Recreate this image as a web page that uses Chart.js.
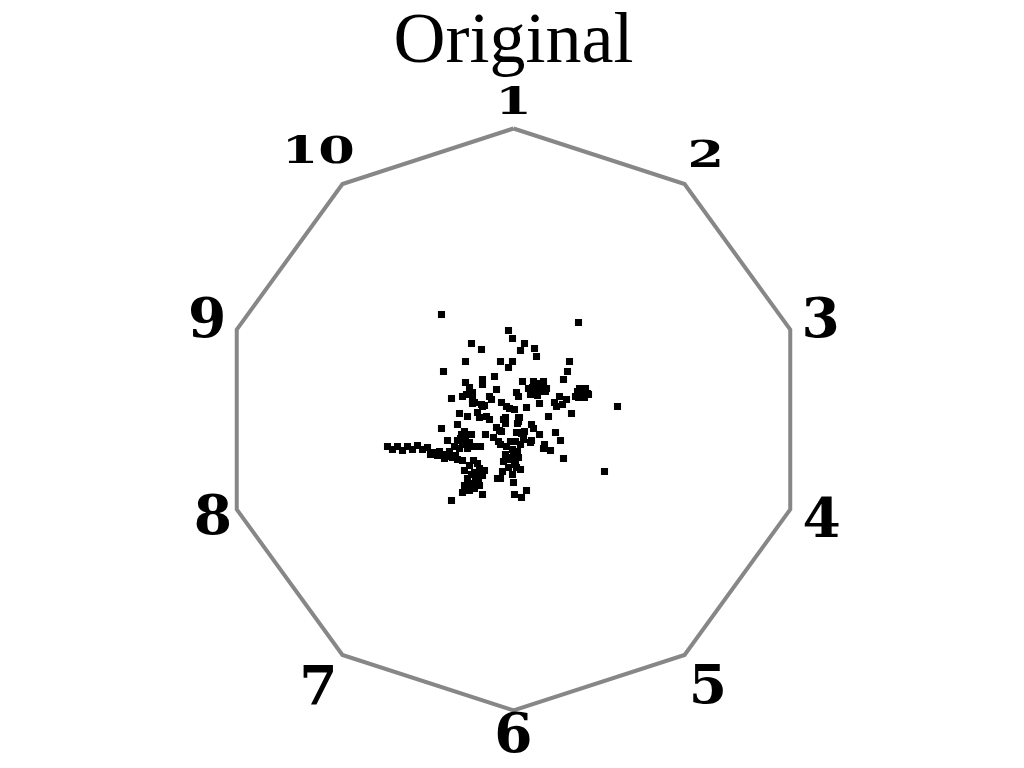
<!DOCTYPE html>
<html>
<head>
<meta charset="utf-8">
<script src="https://cdn.jsdelivr.net/npm/chart.js@4.4.1/dist/chart.umd.min.js"></script>
<style>
  html, body { margin: 0; padding: 0; background: #ffffff; }
  #wrap { width: 1024px; height: 768px; position: relative; }
</style>
</head>
<body>
<div id="wrap"><canvas id="c"></canvas></div>
<script>
// ---- data ----
const chartTitle = "Original";
const anchorLabels = ["1", "2", "3", "4", "5", "6", "7", "8", "9", "10"];
const anchorRadius = 291; // radius of the anchor circle, in plot units

// projected sample positions (plot units, origin at the centre of the anchor circle)
const pointX = [
  -72, -5, -1, -42, -32, 11, 7, 21, 23, 65,
  -48, -13, -1, -5, 56, 54, 50, -70, -48, -44,
  -41, -31, -31, -19, -17, 9, -62, -51, -47, -41,
  -41, -24, -22, -32, -29, -12, -7, -4, 3, 5,
  15, 25, 19, 30, 22, 27, 17, 32, 64, 70,
  68, 74, 62, 26, 41, 46, 53, 43, 49, 104,
  13, 58, 35, -8, 1, 4, 5, 18, 20, 26,
  11, 10, 3, -12, -3, 18, 17, 42, 47, 31,
  30, 37, 50, 91, -8, -3, 1, -5, 5, -1,
  7, -10, 0, 4, -11, -1, 0, -13, 13, 1,
  8, 7, 10, -13, -20, -17, -28, -33, -15, -7,
  -10, -8, 5, 6, 8, 2, 7, -54, -46, -36,
  -34, -27, -24, -39, -31, -56, -72, -66, -14, -126,
  -121, -116, -111, -106, -101, -96, -91, -86, -81, -76,
  -71, -66, -61, -56, -51, -83, -74, -64, -58, -69,
  -52, -48, -44, -51, -46, -56, -49, -42, -54, -40,
  -59, -49, -44, -39, -34, -46, -41, -35, -31, -49,
  -44, -39, -51, -34, -29, -40, -36, -31, -62, -16,
  20, 30, 25, 33, 18, 24, 28, 22, 66, 72,
  65, 71, 69, 75, -38, -44, -36, -42, -47, -47,
  -53, -45, 2, -6, 3
];
const pointY = [
  105, 89, 81, 76, 70, 76, 69, 71, 63, 97,
  58, 58, 58, 52, 58, 48, 40, 48, 37, 32,
  27, 40, 35, 43, 30, 38, 21, 23, 25, 20,
  16, 23, 20, 15, 14, 17, 13, 11, 27, 23,
  31, 36, 32, 34, 28, 29, 25, 28, 28, 30,
  24, 26, 23, 16, 17, 23, 20, 13, 15, 13,
  12, 6, 3, 2, 10, -4, 2, -5, -9, -15,
  -12, -15, -13, -12, -22, -21, -23, -13, -21, -25,
  -29, -31, -39, -52, -35, -40, -45, -48, -38, -30,
  -50, -42, -35, -32, -52, -55, -63, -59, -71, -75,
  -78, -13, -20, -25, -18, -8, -15, -27, -22, -27,
  0, -4, -2, 2, -14, -22, -25, 6, 3, 7,
  2, 3, 0, 17, 13, -5, -9, -21, -11, -27,
  -30, -27, -31, -27, -30, -26, -30, -28, -33, -36,
  -35, -37, -38, -40, -41, -35, -32, -32, -36, -39,
  -15, -19, -23, -25, -29, -21, -12, -15, -29, -27,
  -27, -51, -46, -53, -49, -59, -64, -59, -56, -66,
  -71, -69, -73, -66, -51, -41, -44, -75, -81, -59,
  38, 38, 28, 31, 30, 24, 35, 34, 31, 31,
  22, 22, 27, 25, -62, -64, -54, -55, -68, -24,
  -19, -15, -41, -38, -48
];

// ---- build datasets ----
const points = pointX.map((x, i) => ({ x: x, y: pointY[i] }));
const n = anchorLabels.length;
const angles = anchorLabels.map((_, k) => Math.PI / 2 - k * 2 * Math.PI / n);
const polygon = angles.map(a => ({ x: anchorRadius * Math.cos(a), y: anchorRadius * Math.sin(a) }));
polygon.push(polygon[0]);

// label placement (style): distance of each label from the centre, relative to the anchor radius
const labelDistance = [1.093, 1.124, 1.110, 1.113, 1.137, 1.082, 1.141, 1.086, 1.107, 1.141];

const anchorLabelPlugin = {
  id: 'anchorLabels',
  afterDatasetsDraw(chart) {
    const ctx = chart.ctx;
    const sx = chart.scales.x, sy = chart.scales.y;
    ctx.save();
    ctx.fillStyle = '#000000';
    ctx.textAlign = 'center';
    ctx.textBaseline = 'middle';
    anchorLabels.forEach((lab, k) => {
      const a = angles[k];
      const r = anchorRadius * labelDistance[k];
      const px = sx.getPixelForValue(r * Math.cos(a));
      const py = sy.getPixelForValue(r * Math.sin(a)) + 3;
      const top = Math.sin(a) > 0.5;
      ctx.save();
      ctx.translate(px, py);
      if (top) {
        ctx.scale(1.42, 1);
        ctx.font = 'bold 37px "DejaVu Serif"';
      } else {
        ctx.font = 'bold 55px "DejaVu Serif"';
      }
      ctx.fillText(lab, 0, 0);
      ctx.restore();
    });
    ctx.restore();
  }
};

new Chart(document.getElementById('c'), {
  type: 'scatter',
  data: {
    datasets: [
      {
        data: polygon,
        showLine: true,
        borderColor: '#878787',
        borderWidth: 4,
        pointRadius: 0,
        fill: false,
        tension: 0
      },
      {
        data: points,
        pointStyle: 'rect',
        pointRadius: 5,
        pointBorderWidth: 0,
        backgroundColor: '#000000',
        borderColor: '#000000'
      }
    ]
  },
  options: {
    responsive: true,
    maintainAspectRatio: false,
    animation: false,
    events: [],
    layout: { padding: { left: 164.3, right: 161.3, top: 0.3, bottom: 8 } },
    scales: {
      x: { type: 'linear', min: -349.2, max: 349.2, display: false },
      y: { type: 'linear', min: -340.5, max: 340.2, display: false }
    },
    plugins: {
      legend: { display: false },
      tooltip: { enabled: false },
      title: {
        display: true,
        text: chartTitle,
        color: '#000000',
        font: { family: '"Liberation Serif"', size: 72, weight: 'normal', lineHeight: 1.0 },
        padding: { top: 7, bottom: 0 }
      }
    }
  },
  plugins: [anchorLabelPlugin]
});
</script>
</body>
</html>
